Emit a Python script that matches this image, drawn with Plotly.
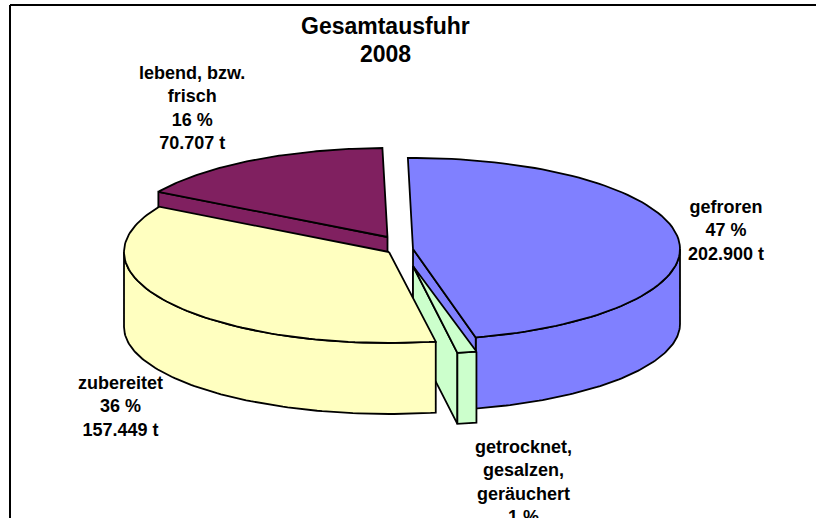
import numpy as np
import plotly.graph_objects as go

# Data
categories = ["gefroren", "getrocknet,<br>gesalzen,<br>geräuchert", "zubereitet", "lebend, bzw.<br>frisch"]
tonnes = [202900, 5000, 157449, 70707]
percent_labels = ["47 %", "1 %", "36 %", "16 %"]
value_labels = ["202.900 t", "", "157.449 t", "70.707 t"]
colors = ["#8080FF", "#CCFFCC", "#FFFFC0", "#802060"]
title_lines = ["Gesamtausfuhr", "2008"]

# Layout of the exploded, tilted pie (pixels of the page)
START_ANGLE = -1.1
ANGLE_SHIFT = [0, 0, -0.7, 0]
CENTERS = [(413, 249), (413, 266), (389, 252), (387.5, 237)]
RADII = [(267, 91), (270, 88), (265, 91), (266, 89)]
DEPTH_SIDE = 75
DEPTH_FRONT_LOSS = 4
LABELS_XY = [(725.5, 194.5), (523, 435), (120, 370.5), (191.5, 61)]
TITLE_Y = [26, 54]
W, H = 816, 518

total = sum(tonnes)
sweeps = [v / total * 360 for v in tonnes]
starts = list(START_ANGLE + np.cumsum([0] + sweeps[:-1]) + np.array(ANGLE_SHIFT))


def rim(i, a0, a1, n=90):
    t = np.radians(np.linspace(a0, a1, n))
    cx, cy = CENTERS[i]
    rx, ry = RADII[i]
    return cx + rx * np.sin(t), cy - ry * np.cos(t)


def depth(a0, a1, n=90):
    t = np.radians(np.linspace(a0, a1, n))
    return DEPTH_SIDE - DEPTH_FRONT_LOSS * np.abs(np.cos(t))


fig = go.Figure()


def poly(x, y, color):
    fig.add_trace(go.Scatter(
        x=list(x) + [x[0]], y=list(y) + [y[0]], mode="lines", fill="toself",
        fillcolor=color, line=dict(color="black", width=1.8),
        hoverinfo="skip", showlegend=False))


def top(i):
    x, y = rim(i, starts[i], starts[i] + sweeps[i])
    cx, cy = CENTERS[i]
    poly(np.r_[cx, x], np.r_[cy, y], colors[i])


def outer_wall(i, a0, a1):
    x, y = rim(i, a0, a1)
    d = depth(a0, a1)
    poly(np.r_[x, x[::-1]], np.r_[y, (y + d)[::-1]], colors[i])


def radial_wall(i, a):
    x, y = rim(i, a, a, 1)
    cx, cy = CENTERS[i]
    d = depth(a, a, 1)[0]
    poly([cx, x[0], x[0], cx], [cy, y[0], y[0] + d, cy + d], colors[i])


BLUE, GREEN, YELLOW, PURPLE = 0, 1, 2, 3
# painter's order, back to front
radial_wall(PURPLE, starts[PURPLE])
top(PURPLE)
outer_wall(BLUE, 90, starts[BLUE] + sweeps[BLUE])
radial_wall(BLUE, starts[BLUE] + sweeps[BLUE])
top(BLUE)
radial_wall(GREEN, starts[GREEN] + sweeps[GREEN])
outer_wall(GREEN, starts[GREEN], starts[GREEN] + sweeps[GREEN])
top(GREEN)
outer_wall(YELLOW, starts[YELLOW], 270)
top(YELLOW)

FONT = "Liberation Sans"
annotations = []
for cat, pct, val, (lx, ly) in zip(categories, percent_labels, value_labels, LABELS_XY):
    text = "<b>" + cat + "<br>" + pct + (("<br>" + val) if val else "") + "</b>"
    annotations.append(dict(x=lx, y=ly, text=text, xref="x", yref="y", showarrow=False,
                            xanchor="center", yanchor="top", align="center",
                            font=dict(family=FONT, size=18, color="black")))
for line, ty in zip(title_lines, TITLE_Y):
    annotations.append(dict(x=385, y=ty, text="<b>" + line + "</b>", xref="x", yref="y",
                            showarrow=False, xanchor="center", yanchor="middle", align="center",
                            font=dict(family=FONT, size=23, color="black")))

fig.update_layout(
    width=W, height=H, margin=dict(l=0, r=0, t=0, b=0),
    paper_bgcolor="white", plot_bgcolor="white",
    xaxis=dict(range=[0, W], visible=False, fixedrange=True),
    yaxis=dict(range=[H, 0], visible=False, fixedrange=True),
    annotations=annotations,
    shapes=[
        dict(type="line", xref="x", yref="y", x0=10, x1=W, y0=5, y1=5, line=dict(color="black", width=2)),
        dict(type="line", xref="x", yref="y", x0=10, x1=10, y0=5, y1=H, line=dict(color="black", width=2)),
    ],
)
fig.write_html("out.html", config={"displayModeBar": False},
               post_script="document.body.style.margin='0';document.body.style.overflow='hidden';")
